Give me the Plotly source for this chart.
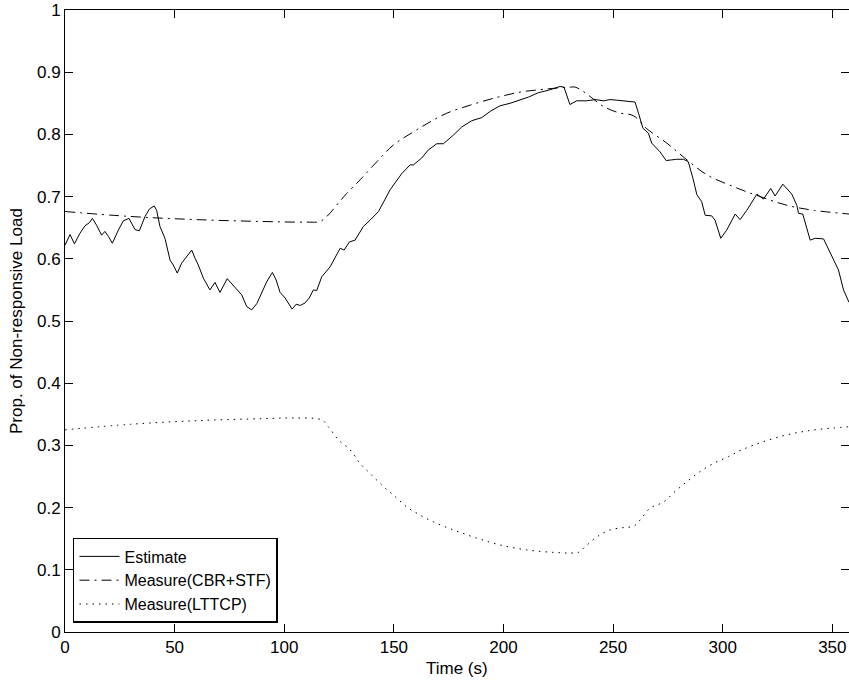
import plotly.graph_objects as go

# ---- data ----
est_t = [0, 2.3, 4.3, 6.8, 9.1, 11.1, 12.5, 14.4, 16.7, 18.2, 19.8, 21.6, 24.3, 26.6, 29.2, 30.4, 31.9, 33.9,
         36.5, 38.5, 40.7, 41.8, 43.3, 45.6, 47.9, 49.4, 51.2, 53.2, 55.5, 57.8, 59.3, 60.8, 63.1, 66.1, 68.4,
         70.7, 74.0, 77.6, 80.6, 82.9, 85.2, 87.5, 89.7, 92.0, 94.6, 96.3, 98.1, 100.4, 103.6, 105.4, 107.3,
         109.5, 111.4, 113.3, 114.8, 117.1, 120.9, 123.2, 125.5, 127.3, 129.7, 132.3, 136.1, 139.1, 143.0,
         148.3, 153.6, 157.4, 158.9, 162.7, 165.7, 169.6, 172.6, 177.2, 181.0, 185.5, 190.1, 193.9, 198.4,
         203.0, 206.8, 211.4, 215.9, 220.5, 225.8, 227.6, 230.3, 233.4, 238.0, 241.8, 245.6, 248.6, 251.7,
         256.2, 260.0, 261.6, 263.6, 266.1, 267.6, 271.4, 274.2, 276.7, 279.0, 282.1, 284.3, 286.6, 288.2,
         290.4, 292.0, 295.0, 296.5, 299.1, 301.8, 305.7, 307.9, 311.0, 315.6, 318.6, 321.9, 323.9, 327.4,
         331.5, 333.8, 334.6, 336.5, 339.9, 342.2, 346.0, 350.5, 352.8, 355.1, 357.6]
est_v = [0.622, 0.639, 0.624, 0.641, 0.653, 0.658, 0.665, 0.654, 0.638, 0.644, 0.636, 0.625, 0.646, 0.661, 0.665,
         0.657, 0.647, 0.645, 0.668, 0.680, 0.685, 0.678, 0.652, 0.633, 0.598, 0.590, 0.577, 0.593, 0.603, 0.614,
         0.601, 0.590, 0.569, 0.550, 0.562, 0.546, 0.568, 0.553, 0.542, 0.523, 0.518, 0.528, 0.545, 0.563, 0.578,
         0.566, 0.546, 0.537, 0.519, 0.527, 0.525, 0.529, 0.537, 0.550, 0.549, 0.571, 0.587, 0.603, 0.617, 0.614,
         0.627, 0.630, 0.652, 0.662, 0.676, 0.711, 0.737, 0.751, 0.751, 0.762, 0.775, 0.785, 0.785, 0.799, 0.812,
         0.822, 0.827, 0.837, 0.846, 0.850, 0.854, 0.860, 0.867, 0.871, 0.877, 0.876, 0.848, 0.854, 0.854, 0.856,
         0.854, 0.856, 0.855, 0.854, 0.852, 0.834, 0.810, 0.802, 0.786, 0.772, 0.758, 0.759, 0.760, 0.760, 0.756,
         0.727, 0.703, 0.692, 0.670, 0.669, 0.662, 0.633, 0.646, 0.672, 0.663, 0.678, 0.704, 0.696, 0.713, 0.701,
         0.720, 0.704, 0.686, 0.673, 0.672, 0.630, 0.633, 0.632, 0.598, 0.582, 0.550, 0.530]

cbr_t = [0, 30, 60, 90, 110, 116.3, 119.4, 122.5, 125.5, 128.5, 134.6, 142.2, 149.8, 158.9, 166.5, 174.1, 184.8,
         195.4, 207.6, 219.8, 230.4, 232.7, 236, 239.5, 245.6, 252.4, 259.3, 265.4, 274.5, 283.7, 292.8, 304.9,
         317.1, 329.3, 341.4, 357.6]
cbr_v = [0.676, 0.668, 0.663, 0.660, 0.659, 0.660, 0.668, 0.680, 0.693, 0.705, 0.727, 0.756, 0.783, 0.804, 0.820,
         0.834, 0.847, 0.858, 0.868, 0.873, 0.876, 0.876, 0.870, 0.861, 0.845, 0.835, 0.830, 0.809, 0.786, 0.759,
         0.735, 0.716, 0.700, 0.686, 0.678, 0.672]

lt_t = [0, 30, 61.6, 90, 104, 117.1, 120.1, 124.7, 130, 134.6, 139.1, 145.2, 150.5, 155.9, 162, 168, 177.2, 187.8,
        198.4, 210.6, 222.8, 230.4, 234.2, 237.2, 242.6, 248.6, 255, 259.3, 262.3, 266.9, 273, 278.3, 283.7, 289.7,
        295.8, 302.6, 308.8, 318.6, 329.3, 339.9, 350.5, 357.6]
lt_v = [0.325, 0.334, 0.340, 0.343, 0.344, 0.341, 0.330, 0.309, 0.293, 0.271, 0.255, 0.234, 0.218, 0.201, 0.188,
        0.177, 0.164, 0.151, 0.140, 0.132, 0.128, 0.127, 0.128, 0.137, 0.153, 0.164, 0.168, 0.170, 0.180, 0.199,
        0.209, 0.226, 0.242, 0.258, 0.271, 0.282, 0.293, 0.306, 0.317, 0.324, 0.328, 0.330]

names = ["Estimate", "Measure(CBR+STF)", "Measure(LTTCP)"]
x_ticks = [0, 50, 100, 150, 200, 250, 300, 350]
y_ticks = [0, 0.1, 0.2, 0.3, 0.4, 0.5, 0.6, 0.7, 0.8, 0.9, 1]
y_tick_text = ["0", "0.1", "0.2", "0.3", "0.4", "0.5", "0.6", "0.7", "0.8", "0.9", "1"]

FONT = "Liberation Sans, Arial, Helvetica, sans-serif"

fig = go.Figure()
fig.add_trace(go.Scatter(x=est_t, y=est_v, mode="lines", name=names[0],
                         line=dict(color="black", width=1)))
fig.add_trace(go.Scatter(x=cbr_t, y=cbr_v, mode="lines", name=names[1], line_shape="spline",
                         line=dict(color="black", width=1, dash="10px,5px,2px,5px")))
fig.add_trace(go.Scatter(x=lt_t, y=lt_v, mode="lines", name=names[2], line_shape="spline",
                         line=dict(color="black", width=1, dash="1.5px,5px")))

axis_common = dict(showgrid=False, zeroline=False, showline=True, linecolor="black", linewidth=1,
                   mirror="ticks", ticks="inside", ticklen=8, tickcolor="black", tickwidth=1,
                   ticklabeloverflow="allow",
                   tickfont=dict(family=FONT, size=17, color="black"))

fig.update_layout(
    width=849, height=681,
    margin=dict(l=65, r=0, t=10, b=49),
    paper_bgcolor="white", plot_bgcolor="white",
    font=dict(family=FONT, size=17, color="black"),
    showlegend=True,
    legend=dict(x=0.0102, y=0.0145, xanchor="left", yanchor="bottom",
                bgcolor="white", bordercolor="black", borderwidth=1.5, itemwidth=40,
                font=dict(family=FONT, size=16, color="black"), tracegroupgap=0),
    xaxis=dict(range=[0, 357.6], tickvals=x_ticks, **axis_common),
    yaxis=dict(range=[0, 1], tickvals=y_ticks, ticktext=y_tick_text, **axis_common),
    annotations=[
        dict(text="Time (s)", xref="paper", yref="paper", x=0.5, y=0, yshift=-36,
             xanchor="center", yanchor="middle", showarrow=False, font=dict(family=FONT, size=17)),
        dict(text="Prop. of Non-responsive Load", xref="paper", yref="paper", x=0, y=0.5, xshift=-49,
             textangle=-90, xanchor="center", yanchor="middle", showarrow=False, font=dict(family=FONT, size=17)),
    ],
)

# remove the browser's default 8px page margin so the figure fills the window exactly
fig.write_html("out.html", config={"displayModeBar": False},
               post_script="document.body.style.margin='0';document.body.style.overflow='hidden';")
